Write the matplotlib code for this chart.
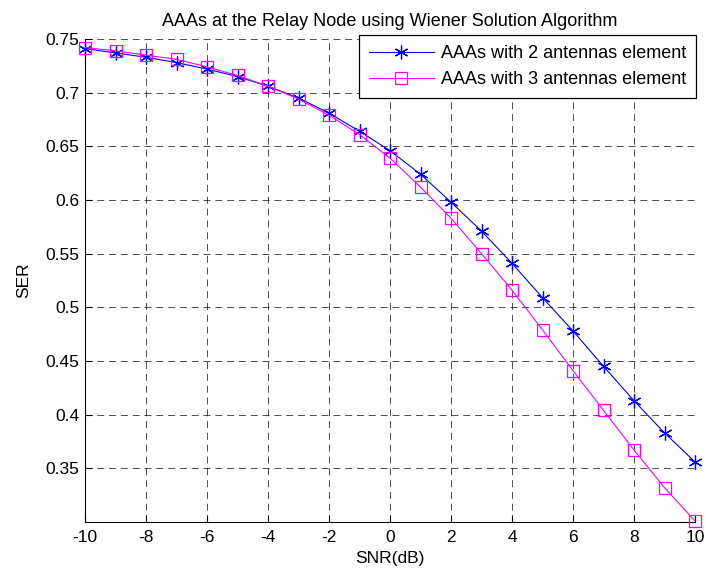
import numpy as np
import matplotlib
matplotlib.use('Agg')
import matplotlib.pyplot as plt
from matplotlib.ticker import FormatStrFormatter

plt.rcParams['font.family'] = ['Liberation Sans', 'DejaVu Sans']
plt.rcParams['axes.unicode_minus'] = False
plt.rcParams['lines.scale_dashes'] = False

snr = np.arange(-10, 11)
ser_2ant = [0.741, 0.737, 0.733, 0.728, 0.722, 0.715, 0.706, 0.695, 0.681, 0.664,
            0.646, 0.624, 0.598, 0.571, 0.541, 0.509, 0.478, 0.445, 0.413, 0.383, 0.356]
ser_3ant = [0.742, 0.739, 0.735, 0.731, 0.724, 0.716, 0.706, 0.694, 0.679, 0.661,
            0.639, 0.612, 0.583, 0.550, 0.516, 0.479, 0.441, 0.404, 0.367, 0.332, 0.301]
labels = ['AAAs with 2 antennas element', 'AAAs with 3 antennas element']
xticks = np.arange(-10, 11, 2)
yticks = [0.35, 0.4, 0.45, 0.5, 0.55, 0.6, 0.65, 0.7, 0.75]

fig = plt.figure(figsize=(7.06, 5.76), dpi=100)
ax = fig.add_axes([85/706, 54/576, 610/706, 483/576])

ax.plot(snr, ser_2ant, color='blue', lw=0.8, marker=(6, 2, 0), ms=10, mew=0.9,
        label=labels[0], clip_on=False, zorder=3)
ax.plot(snr, ser_3ant, color='magenta', lw=0.8, marker='s', ms=9, mfc='none', mew=0.9,
        label=labels[1], clip_on=False, zorder=3)

ax.set_xlim(-10, 10)
ax.set_ylim(0.3, 0.75)
ax.set_xticks(xticks)
ax.set_yticks(yticks)
ax.yaxis.set_major_formatter(FormatStrFormatter('%g'))
ax.tick_params(direction='in', length=5, labelsize=12.5, width=0.8)
ax.tick_params(axis='x', pad=6)
ax.tick_params(axis='y', pad=4)

ax.grid(True, color='black', linestyle=(0, (5, 3.5)), lw=0.6, alpha=0.8)
ax.spines['top'].set_visible(False)
ax.spines['right'].set_visible(False)
ax.spines['left'].set_linewidth(0.8)
ax.spines['bottom'].set_linewidth(0.8)

ax.set_title('AAAs at the Relay Node using Wiener Solution Algorithm', fontsize=13, pad=9)
ax.set_xlabel('SNR(dB)', fontsize=12.5, labelpad=4)
ax.set_ylabel('SER', fontsize=12.5, labelpad=10)

leg = ax.legend(loc='upper right', fontsize=13, handlelength=3.6, borderaxespad=0,
                bbox_to_anchor=(1.002, 1.008),
                fancybox=False, framealpha=1, edgecolor='black', borderpad=0.55,
                labelspacing=0.5, handletextpad=0.4)
leg.get_frame().set_linewidth(0.9)

fig.savefig('out.png', dpi=100)
